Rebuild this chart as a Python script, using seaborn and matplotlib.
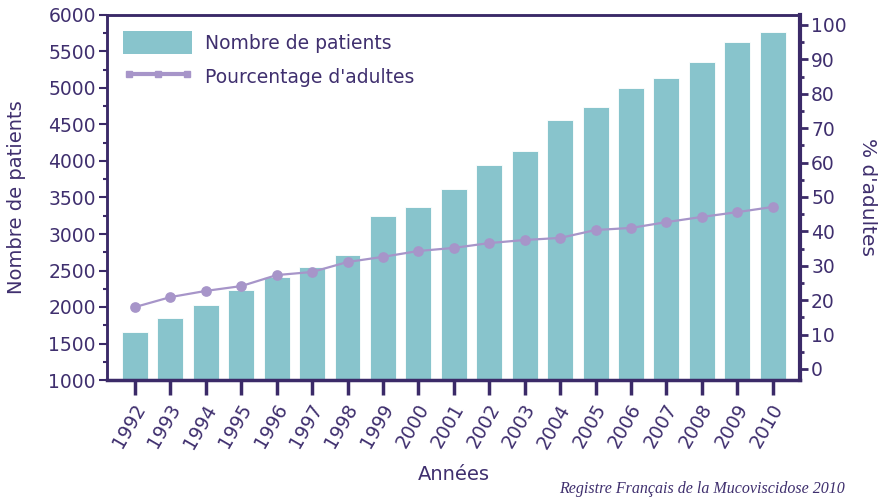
import matplotlib
matplotlib.use("Agg")
import matplotlib.pyplot as plt
import matplotlib.transforms as mtransforms
import seaborn as sns
import pandas as pd
import numpy as np
from matplotlib.ticker import MultipleLocator
from matplotlib.lines import Line2D
from matplotlib.patches import Patch

years = [str(y) for y in range(1992, 2011)]
patients = [1660, 1850, 2030, 2230, 2410, 2550, 2710, 3250, 3370, 3620,
            3945, 4135, 4560, 4740, 5000, 5140, 5360, 5630, 5770]
pct_adults = [18.0, 20.9, 22.7, 24.1, 27.3, 28.2, 31.1, 32.6, 34.3, 35.2,
              36.6, 37.5, 38.1, 40.4, 41.0, 42.7, 44.2, 45.6, 47.1]

df = pd.DataFrame({"Année": years, "patients": patients, "pct": pct_adults})

sns.set_theme(style="white")
plt.rcParams['font.family'] = ['DejaVu Sans']

AX = "#3b2a68"
TXT = "#3f2f6e"
BAR = "#88c4cc"
LINE = "#a795c9"
FS = 13.5

fig = plt.figure(figsize=(8.79, 5.0), dpi=100)
ax = fig.add_axes([107/879, 1 - 380/500, (800-107)/879, (380-15)/500])

sns.barplot(data=df, x="Année", y="patients", color=BAR, width=0.73,
            saturation=1, ax=ax, zorder=1)
for p in ax.patches:
    p.set_edgecolor("white")
    p.set_linewidth(0.6)

ax2 = ax.twinx()
sns.pointplot(data=df, x="Année", y="pct", color=LINE, markers="o",
              linewidth=1.6, markersize=6.5, ax=ax2)

ax.set_xlim(-0.79, 18.77)
ax.set_ylim(1000, 6000)
ax2.set_ylim(-3.2, 102.9)

ax.yaxis.set_major_locator(MultipleLocator(500))
ax.yaxis.set_minor_locator(MultipleLocator(250))
ax2.yaxis.set_major_locator(MultipleLocator(10))
ax2.yaxis.set_minor_locator(MultipleLocator(5))

for a in (ax, ax2):
    for s in a.spines.values():
        s.set_color(AX)
        s.set_linewidth(1.8)
ax2.spines["right"].set_linewidth(3)
ax.spines["bottom"].set_linewidth(2.5)

ax.tick_params(axis="y", which="major", direction="out", length=6, width=1.5,
               color=AX, labelcolor=TXT, labelsize=FS, pad=2, left=True)
ax.tick_params(axis="y", which="minor", direction="out", length=3, width=1.5,
               color=AX, left=True)
ax.tick_params(axis="x", direction="out", length=11, width=2.5, color=AX,
               labelcolor=TXT, labelsize=FS, bottom=True, pad=4)
ax2.tick_params(axis="y", which="major", direction="out", length=6, width=2,
                color=AX, labelcolor=TXT, labelsize=FS, pad=2, right=True)
ax2.tick_params(axis="y", which="minor", direction="out", length=3, width=2,
                color=AX, right=True)

shift = mtransforms.ScaledTranslation(-6/100, 0, fig.dpi_scale_trans)
for lbl in ax.get_xticklabels():
    lbl.set_rotation(60)
    lbl.set_ha("center")
    lbl.set_va("top")
    lbl.set_rotation_mode("default")
    lbl.set_transform(lbl.get_transform() + shift)

ax.set_xlabel("Années", color=TXT, fontsize=14, labelpad=10)
ax.set_ylabel("Nombre de patients", color=TXT, fontsize=14, labelpad=16)
ax2.set_ylabel("% d'adultes", color=TXT, fontsize=14.5, rotation=270, labelpad=22)
ax2.set_xlabel("")

handles = [Patch(facecolor=BAR, edgecolor="none"),
           Line2D([0], [0], color=LINE, lw=3, marker="s", markersize=4.5)]
leg = ax.legend(handles, ["Nombre de patients", "Pourcentage d'adultes"],
                loc="upper left", bbox_to_anchor=(0.0, 1.0), frameon=False,
                fontsize=FS, handlelength=3.7, handleheight=1.5, numpoints=3,
                handletextpad=0.7, labelspacing=0.6, borderpad=0,
                borderaxespad=0.85)
for t in leg.get_texts():
    t.set_color(TXT)

fig.text(845/879, 1 - 489/500, "Registre Français de la Mucoviscidose 2010",
         ha="right", va="center", fontsize=11.5, style="italic",
         family=["Liberation Serif", "DejaVu Serif"], color=TXT)

fig.savefig("out.png", dpi=100)
